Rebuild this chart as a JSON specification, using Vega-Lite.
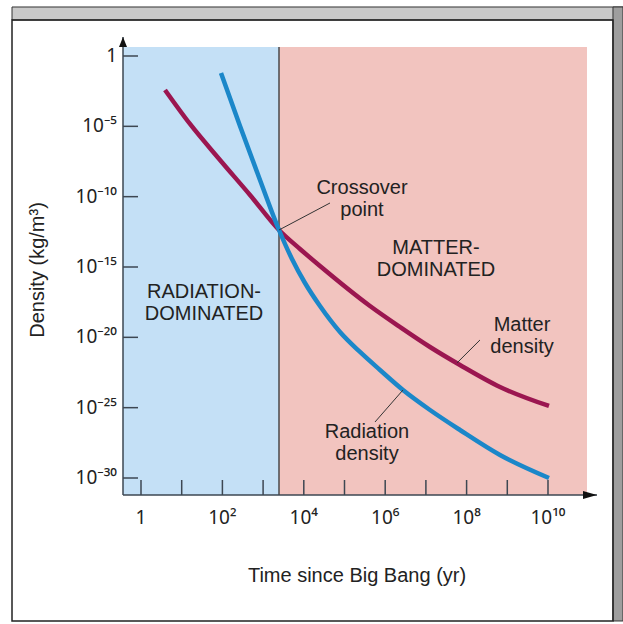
{
  "$schema": "https://vega.github.io/schema/vega-lite/v6.json",
  "width": 474,
  "height": 458,
  "autosize": "none",
  "padding": {"left": 123, "top": 37, "right": 26, "bottom": 129},
  "background": "white",
  "config": {
    "view": {"stroke": null},
    "font": "Liberation Sans"
  },
  "datasets": {
    "curves": [
      {"series": "Matter density", "t": 3.888, "rho": 3.828e-3},
      {"series": "Matter density", "t": 15.99, "rho": 1.466e-5},
      {"series": "Matter density", "t": 87.30, "rho": 4.044e-8},
      {"series": "Matter density", "t": 476.6, "rho": 1.314e-10},
      {"series": "Matter density", "t": 2459, "rho": 4.272e-13},
      {"series": "Matter density", "t": 8066, "rho": 1.905e-14},
      {"series": "Matter density", "t": 2.500e4, "rho": 1.178e-15},
      {"series": "Matter density", "t": 4.231e5, "rho": 1.690e-18},
      {"series": "Matter density", "t": 2.310e6, "rho": 5.433e-20},
      {"series": "Matter density", "t": 1.261e7, "rho": 2.056e-21},
      {"series": "Matter density", "t": 6.883e7, "rho": 1.081e-22},
      {"series": "Matter density", "t": 6.616e8, "rho": 2.950e-24},
      {"series": "Matter density", "t": 1.058e10, "rho": 1.315e-25},
      {"series": "Radiation density", "t": 92.4, "rho": 6.185e-2},
      {"series": "Radiation density", "t": 270.6, "rho": 1.056e-5},
      {"series": "Radiation density", "t": 839.0, "rho": 1.531e-9},
      {"series": "Radiation density", "t": 2459, "rho": 4.272e-13},
      {"series": "Radiation density", "t": 5130, "rho": 3.707e-15},
      {"series": "Radiation density", "t": 1.070e4, "rho": 7.295e-17},
      {"series": "Radiation density", "t": 2.500e4, "rho": 1.690e-18},
      {"series": "Radiation density", "t": 7.752e4, "rho": 2.396e-20},
      {"series": "Radiation density", "t": 2.404e5, "rho": 9.077e-22},
      {"series": "Radiation density", "t": 7.451e5, "rho": 4.769e-23},
      {"series": "Radiation density", "t": 2.737e6, "rho": 1.805e-24},
      {"series": "Radiation density", "t": 1.261e7, "rho": 6.835e-26},
      {"series": "Radiation density", "t": 6.883e7, "rho": 2.588e-27},
      {"series": "Radiation density", "t": 6.616e8, "rho": 4.323e-29},
      {"series": "Radiation density", "t": 1.058e10, "rho": 1.0e-30}
    ],
    "regions": [
      {"region": "radiation", "t": 0.3612, "t2": 2459, "rho": 6.19e-32, "rho2": 4.36},
      {"region": "matter", "t": 2459, "t2": 9.08e10, "rho": 6.19e-32, "rho2": 4.36}
    ],
    "xticks": [
      {"t": 1}, {"t": 10}, {"t": 100}, {"t": 1000}, {"t": 10000}, {"t": 100000},
      {"t": 1000000}, {"t": 10000000}, {"t": 100000000}, {"t": 1000000000}, {"t": 10000000000}
    ],
    "xlabels": [
      {"t": 1, "label": "1"}, {"t": 100, "label": "10²"}, {"t": 10000, "label": "10⁴"},
      {"t": 1000000, "label": "10⁶"}, {"t": 100000000, "label": "10⁸"}, {"t": 10000000000, "label": "10¹⁰"}
    ],
    "yticks": [
      {"rho": 1, "label": "1"}, {"rho": 1e-5, "label": "10⁻⁵"}, {"rho": 1e-10, "label": "10⁻¹⁰"},
      {"rho": 1e-15, "label": "10⁻¹⁵"}, {"rho": 1e-20, "label": "10⁻²⁰"}, {"rho": 1e-25, "label": "10⁻²⁵"},
      {"rho": 1e-30, "label": "10⁻³⁰"}
    ],
    "notes": [
      {"label": "Crossover\npoint", "t": 2.69e5, "rho": 4.132e-10},
      {"label": "MATTER-\nDOMINATED", "t": 1.771e7, "rho": 2.244e-14},
      {"label": "RADIATION-\nDOMINATED", "t": 35.3, "rho": 1.671e-17},
      {"label": "Matter\ndensity", "t": 2.30e9, "rho": 7.53e-20},
      {"label": "Radiation\ndensity", "t": 3.57e5, "rho": 1.866e-27}
    ],
    "leaders": [
      {"note": "Crossover point", "t": 2459, "rho": 4.272e-13, "t2": 4.40e4, "rho2": 3.55e-11},
      {"note": "Matter density", "t": 5.81e7, "rho": 1.51e-22, "t2": 2.13e8, "rho2": 6.46e-21},
      {"note": "Radiation density", "t": 2.74e6, "rho": 1.81e-24, "t2": 5.61e5, "rho2": 9.55e-27}
    ]
  },
  "layer": [
    {
      "data": {"values": [{"part": "top bevel"}]},
      "mark": {"type": "rect", "clip": false, "fill": "#c9c9c9", "stroke": "#333", "strokeWidth": 1},
      "encoding": {
        "x": {"datum": 6.77e-4, "type": "quantitative", "axis": null, "scale": {"type": "log", "domain": [0.3612, 1.6e11], "nice": false}},
        "x2": {"datum": 6.96e11},
        "y": {"datum": 3043, "type": "quantitative", "axis": null, "scale": {"type": "log", "domain": [6.19e-32, 22.4], "nice": false}},
        "y2": {"datum": 362.4}
      }
    },
    {
      "data": {"values": [{"part": "side bevel"}]},
      "mark": {"type": "rect", "clip": false, "fill": "#9e9e9e", "stroke": "#333", "strokeWidth": 1},
      "encoding": {
        "x": {"datum": 3.95e11, "type": "quantitative", "axis": null, "scale": {"type": "log", "domain": [0.3612, 1.6e11], "nice": false}},
        "x2": {"datum": 6.96e11},
        "y": {"datum": 3043, "type": "quantitative", "axis": null, "scale": {"type": "log", "domain": [6.19e-32, 22.4], "nice": false}},
        "y2": {"datum": 6.84e-41}
      }
    },
    {
      "data": {"values": [{"part": "panel"}]},
      "mark": {"type": "rect", "clip": false, "fillOpacity": 0, "stroke": "#222", "strokeWidth": 1.5},
      "encoding": {
        "x": {"datum": 6.77e-4, "type": "quantitative", "axis": null, "scale": {"type": "log", "domain": [0.3612, 1.6e11], "nice": false}},
        "x2": {"datum": 3.95e11},
        "y": {"datum": 362.4, "type": "quantitative", "axis": null, "scale": {"type": "log", "domain": [6.19e-32, 22.4], "nice": false}},
        "y2": {"datum": 6.84e-41}
      }
    },
    {
      "data": {"name": "regions"},
      "mark": {"type": "rect"},
      "encoding": {
        "x": {"field": "t", "type": "quantitative", "axis": null, "scale": {"type": "log", "domain": [0.3612, 1.6e11], "nice": false}},
        "x2": {"field": "t2"},
        "y": {"field": "rho", "type": "quantitative", "axis": null, "scale": {"type": "log", "domain": [6.19e-32, 22.4], "nice": false}},
        "y2": {"field": "rho2"},
        "fill": {"field": "region", "type": "nominal", "scale": {"domain": ["radiation", "matter"], "range": ["#c4e0f6", "#f2c4bf"]}, "legend": null}
      }
    },
    {
      "data": {"name": "regions"},
      "transform": [{"filter": "datum.region == 'matter'"}],
      "mark": {"type": "rule", "color": "#4a4a4a", "strokeWidth": 1.5},
      "encoding": {
        "x": {"field": "t", "type": "quantitative", "axis": null, "scale": {"type": "log", "domain": [0.3612, 1.6e11], "nice": false}},
        "y": {"field": "rho", "type": "quantitative", "axis": null, "scale": {"type": "log", "domain": [6.19e-32, 22.4], "nice": false}},
        "y2": {"field": "rho2"}
      }
    },
    {
      "data": {"name": "xticks"},
      "mark": {"type": "rule", "color": "#3d4752", "strokeWidth": 1.5},
      "encoding": {
        "x": {"field": "t", "type": "quantitative", "axis": null, "scale": {"type": "log", "domain": [0.3612, 1.6e11], "nice": false}},
        "y": {"datum": 6.19e-32, "type": "quantitative", "axis": null, "scale": {"type": "log", "domain": [6.19e-32, 22.4], "nice": false}},
        "y2": {"datum": 7.21e-31}
      }
    },
    {
      "data": {"name": "yticks"},
      "mark": {"type": "rule", "color": "#3d4752", "strokeWidth": 1.5},
      "encoding": {
        "x": {"datum": 0.3612, "type": "quantitative", "axis": null, "scale": {"type": "log", "domain": [0.3612, 1.6e11], "nice": false}},
        "x2": {"datum": 0.844},
        "y": {"field": "rho", "type": "quantitative", "axis": null, "scale": {"type": "log", "domain": [6.19e-32, 22.4], "nice": false}}
      }
    },
    {
      "data": {"values": [{"part": "x axis line"}]},
      "mark": {"type": "rule", "color": "#3d4752", "strokeWidth": 1.5},
      "encoding": {
        "x": {"datum": 0.3612, "type": "quantitative", "axis": null, "scale": {"type": "log", "domain": [0.3612, 1.6e11], "nice": false}},
        "x2": {"datum": 1.6e11},
        "y": {"datum": 6.19e-32, "type": "quantitative", "axis": null, "scale": {"type": "log", "domain": [6.19e-32, 22.4], "nice": false}}
      }
    },
    {
      "data": {"values": [{"part": "y axis line"}]},
      "mark": {"type": "rule", "color": "#3d4752", "strokeWidth": 1.5},
      "encoding": {
        "x": {"datum": 0.3612, "type": "quantitative", "axis": null, "scale": {"type": "log", "domain": [0.3612, 1.6e11], "nice": false}},
        "y": {"datum": 6.19e-32, "type": "quantitative", "axis": null, "scale": {"type": "log", "domain": [6.19e-32, 22.4], "nice": false}},
        "y2": {"datum": 22.4}
      }
    },
    {
      "data": {"name": "xlabels"},
      "mark": {"type": "text", "clip": false, "fontSize": 19, "color": "#222", "align": "center", "baseline": "middle", "dy": 23, "font": "Noto Sans"},
      "encoding": {
        "x": {"field": "t", "type": "quantitative", "axis": null, "scale": {"type": "log", "domain": [0.3612, 1.6e11], "nice": false}},
        "y": {"datum": 6.19e-32, "type": "quantitative", "axis": null, "scale": {"type": "log", "domain": [6.19e-32, 22.4], "nice": false}},
        "text": {"field": "label"}
      }
    },
    {
      "data": {"name": "yticks"},
      "mark": {"type": "text", "clip": false, "fontSize": 19, "color": "#222", "align": "right", "baseline": "middle", "dx": -6, "font": "Noto Sans"},
      "encoding": {
        "x": {"datum": 0.3612, "type": "quantitative", "axis": null, "scale": {"type": "log", "domain": [0.3612, 1.6e11], "nice": false}},
        "y": {"field": "rho", "type": "quantitative", "axis": null, "scale": {"type": "log", "domain": [6.19e-32, 22.4], "nice": false}},
        "text": {"field": "label"}
      }
    },
    {
      "data": {"values": [{"title": "Time since Big Bang (yr)"}]},
      "mark": {"type": "text", "clip": false, "fontSize": 20, "color": "#222", "align": "center", "baseline": "middle", "font": "Liberation Sans"},
      "encoding": {
        "x": {"datum": 2.03e5, "type": "quantitative", "axis": null, "scale": {"type": "log", "domain": [0.3612, 1.6e11], "nice": false}},
        "y": {"datum": 1.081e-37, "type": "quantitative", "axis": null, "scale": {"type": "log", "domain": [6.19e-32, 22.4], "nice": false}},
        "text": {"field": "title"}
      }
    },
    {
      "data": {"values": [{"title": "Density (kg/m³)"}]},
      "mark": {"type": "text", "clip": false, "fontSize": 20, "color": "#222", "align": "center", "baseline": "middle", "angle": 270, "font": "Liberation Sans"},
      "encoding": {
        "x": {"datum": 2.945e-3, "type": "quantitative", "axis": null, "scale": {"type": "log", "domain": [0.3612, 1.6e11], "nice": false}},
        "y": {"datum": 6.12e-16, "type": "quantitative", "axis": null, "scale": {"type": "log", "domain": [6.19e-32, 22.4], "nice": false}},
        "text": {"field": "title"}
      }
    },
    {
      "data": {"name": "curves"},
      "mark": {"type": "line", "interpolate": "monotone", "strokeWidth": 4.5, "strokeCap": "butt"},
      "encoding": {
        "x": {"field": "t", "type": "quantitative", "axis": null, "scale": {"type": "log", "domain": [0.3612, 1.6e11], "nice": false}},
        "y": {"field": "rho", "type": "quantitative", "axis": null, "scale": {"type": "log", "domain": [6.19e-32, 22.4], "nice": false}},
        "stroke": {"field": "series", "type": "nominal", "scale": {"domain": ["Matter density", "Radiation density"], "range": ["#9b1650", "#1b87c9"]}, "legend": null}
      }
    },
    {
      "data": {"name": "leaders"},
      "mark": {"type": "rule", "color": "#333", "strokeWidth": 1},
      "encoding": {
        "x": {"field": "t", "type": "quantitative", "axis": null, "scale": {"type": "log", "domain": [0.3612, 1.6e11], "nice": false}},
        "x2": {"field": "t2"},
        "y": {"field": "rho", "type": "quantitative", "axis": null, "scale": {"type": "log", "domain": [6.19e-32, 22.4], "nice": false}},
        "y2": {"field": "rho2"}
      }
    },
    {
      "data": {"name": "notes"},
      "mark": {"type": "text", "fontSize": 20, "color": "#222", "lineBreak": "\n", "lineHeight": 22, "align": "center", "baseline": "middle", "font": "Liberation Sans"},
      "encoding": {
        "x": {"field": "t", "type": "quantitative", "axis": null, "scale": {"type": "log", "domain": [0.3612, 1.6e11], "nice": false}},
        "y": {"field": "rho", "type": "quantitative", "axis": null, "scale": {"type": "log", "domain": [6.19e-32, 22.4], "nice": false}},
        "text": {"field": "label"}
      }
    },
    {
      "data": {"values": [{"part": "x arrow"}]},
      "mark": {"type": "point", "clip": false, "shape": "M-1,-0.57L1,0L-1,0.57Z", "size": 196, "filled": true, "color": "#111", "opacity": 1},
      "encoding": {
        "x": {"datum": 1.077e11, "type": "quantitative", "axis": null, "scale": {"type": "log", "domain": [0.3612, 1.6e11], "nice": false}},
        "y": {"datum": 6.19e-32, "type": "quantitative", "axis": null, "scale": {"type": "log", "domain": [6.19e-32, 22.4], "nice": false}}
      }
    },
    {
      "data": {"values": [{"part": "y arrow"}]},
      "mark": {"type": "point", "clip": false, "shape": "M-0.8,1L0,-1L0.8,1Z", "size": 100, "filled": true, "color": "#111", "opacity": 1},
      "encoding": {
        "x": {"datum": 0.3612, "type": "quantitative", "axis": null, "scale": {"type": "log", "domain": [0.3612, 1.6e11], "nice": false}},
        "y": {"datum": 9.89, "type": "quantitative", "axis": null, "scale": {"type": "log", "domain": [6.19e-32, 22.4], "nice": false}}
      }
    }
  ]
}
